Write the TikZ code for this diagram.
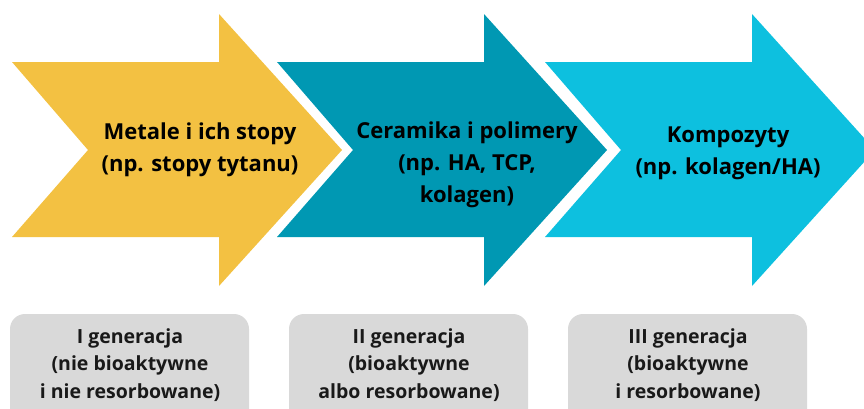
\documentclass[tikz,border=0pt]{standalone}
\usepackage{fontspec}
\setmainfont{Open Sans}
\definecolor{cyellow}{HTML}{F3C142}
\definecolor{cteal}{HTML}{0098B3}
\definecolor{clight}{HTML}{0DC0DF}
\definecolor{cgray}{HTML}{D9D9D9}
\tikzset{
  arrowtext/.style={align=center, font=\bfseries\fontsize{22}{32}\selectfont, text=black, inner sep=0pt},
  gentext/.style={align=center, font=\bfseries\fontsize{19.5}{27.5}\selectfont, text=black!90, inner sep=0pt},
  genbox/.style={fill=cgray, rounded corners=15pt},
}
\newcommand{\chevronarrow}[2]{%
  \fill[#2] (#1,62) -- (#1+207,62) -- (#1+207,14) -- (#1+330,150) -- (#1+207,286)
    -- (#1+207,237) -- (#1,237) -- (#1+76,150) -- cycle;}
\begin{document}
\begin{tikzpicture}[x=1pt,y=-1pt]
\useasboundingbox (0,0) rectangle (864,408);
\clip (0,0) rectangle (864,408);
\chevronarrow{12}{cyellow}
\chevronarrow{277}{cteal}
\chevronarrow{545}{clight}
\node[arrowtext] (t1) at (200,150) {Metale i ich stopy\\(np. stopy tytanu)};
\node[arrowtext] (t2) at (467,165) {Ceramika i polimery\\(np. HA, TCP,\\kolagen)};
\node[arrowtext] (t3) at (728,153) {Kompozyty\\(np. kolagen/HA)};
\fill[genbox] (10,314) rectangle (249,440);
\fill[genbox] (289,314) rectangle (528,440);
\fill[genbox] (568,314) rectangle (807,440);
\node[gentext] (g1) at (130,365) {I generacja\\(nie bioaktywne\\i nie resorbowane)};
\node[gentext] (g2) at (409,365) {II generacja\\(bioaktywne\\albo resorbowane)};
\node[gentext] (g3) at (688,365) {III generacja\\(bioaktywne\\i resorbowane)};
\end{tikzpicture}
\end{document}
